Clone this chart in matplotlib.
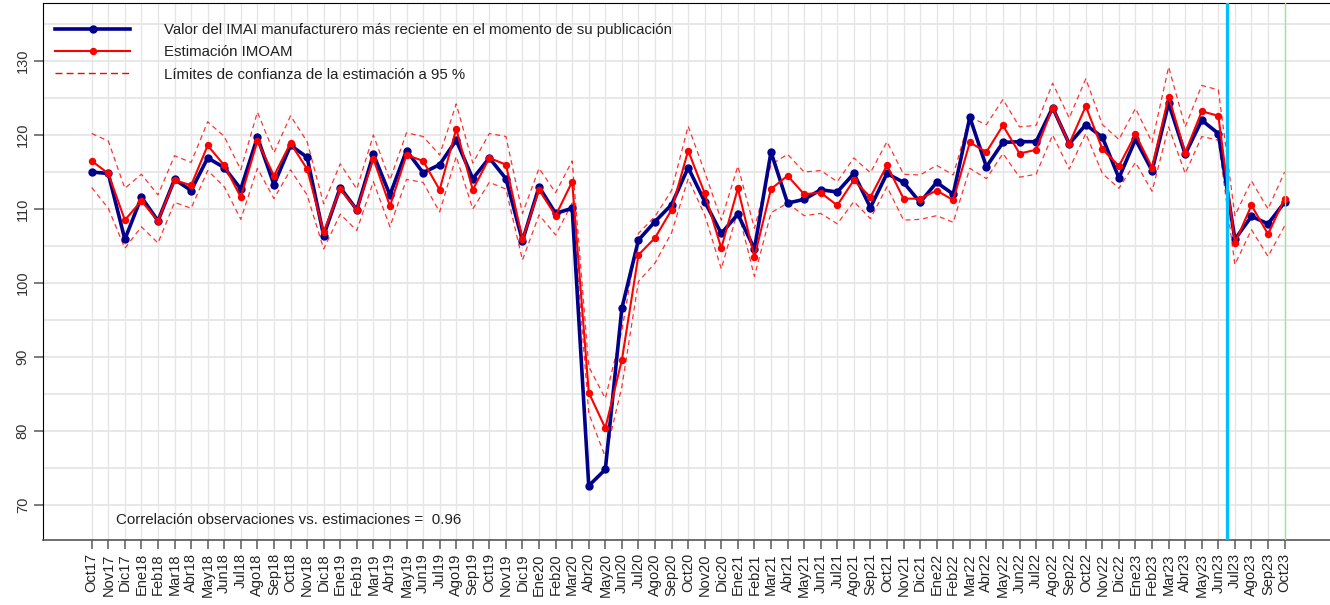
import numpy as np
import matplotlib
matplotlib.use('Agg')
import matplotlib.pyplot as plt
from matplotlib.lines import Line2D

plt.rcParams['font.family'] = ['Liberation Sans', 'DejaVu Sans']

# month labels, Oct17 .. Oct23
meses = ['Ene', 'Feb', 'Mar', 'Abr', 'May', 'Jun', 'Jul', 'Ago', 'Sep', 'Oct', 'Nov', 'Dic']
labels = []
for yr in range(17, 24):
    for k, m in enumerate(meses):
        if (yr == 17 and k < 9) or (yr == 23 and k > 9):
            continue
        labels.append(f'{m}{yr}')

# IMAI manufacturero observed
observado = [115.0, 114.8, 105.9, 111.6, 108.4, 114.0, 112.5, 116.9, 115.6, 112.7,
             119.7, 113.3, 118.6, 117.0, 106.4, 112.9, 109.9, 117.4, 111.9, 117.9,
             114.9, 116.0, 119.3, 114.1, 116.9, 114.1, 105.7, 113.0, 109.4, 110.1,
             72.6, 74.8, 96.6, 105.8, 108.3, 110.6, 115.6, 111.0, 106.7, 109.3,
             104.6, 117.7, 110.8, 111.3, 112.6, 112.3, 114.8, 110.2, 114.8, 113.6,
             110.9, 113.6, 112.0, 122.4, 115.7, 119.0, 119.1, 119.1, 123.7, 118.8,
             121.4, 119.7, 114.2, 119.4, 115.2, 124.3, 117.4, 122.0, 120.2, 105.9,
             109.0, 108.0, 110.9]

# IMOAM estimate
estimacion = [116.5, 114.8, 108.5, 111.1, 108.4, 113.9, 113.2, 118.6, 115.9, 111.6,
              119.2, 114.5, 118.9, 115.4, 106.9, 112.7, 109.9, 116.8, 110.4, 117.3,
              116.5, 112.6, 120.8, 112.6, 116.9, 116.0, 105.9, 112.6, 109.1, 113.7,
              85.2, 80.4, 89.6, 103.8, 106.1, 109.9, 117.9, 112.1, 104.7, 112.8,
              103.5, 112.7, 114.5, 112.0, 112.2, 110.5, 113.9, 111.6, 115.9, 111.4,
              111.4, 112.5, 111.2, 119.0, 117.7, 121.3, 117.5, 118.0, 123.7, 118.8,
              123.9, 118.1, 115.8, 120.1, 115.6, 125.2, 117.6, 123.2, 122.6, 105.4,
              110.5, 106.6, 111.4]

# 95% limits
lim_sup = [120.2, 119.2, 112.8, 114.7, 111.9, 117.2, 116.3, 121.8, 119.8, 115.3,
           123.1, 117.6, 122.6, 119.1, 110.7, 116.1, 112.7, 120.0, 113.9, 120.3,
           119.8, 117.3, 124.2, 116.2, 120.2, 119.8, 109.4, 115.5, 112.2, 116.5,
           88.7, 84.4, 93.6, 106.7, 109.0, 112.5, 121.2, 115.0, 108.5, 115.8,
           107.4, 116.0, 117.4, 115.0, 115.2, 113.7, 116.9, 114.9, 119.1, 114.7,
           114.6, 115.9, 114.6, 122.4, 121.4, 124.8, 121.1, 121.3, 127.0, 122.3,
           127.6, 121.4, 119.4, 123.6, 119.0, 129.2, 121.1, 126.7, 126.1, 109.1,
           113.8, 110.0, 115.0]

lim_inf = [112.9, 110.1, 104.7, 107.6, 105.4, 110.9, 110.1, 115.2, 113.0, 108.6,
           115.5, 111.4, 115.3, 111.9, 104.6, 109.3, 107.1, 113.7, 107.6, 114.0,
           113.6, 109.6, 117.1, 110.0, 113.6, 112.7, 103.1, 109.2, 106.5, 110.8,
           82.4, 76.5, 86.0, 100.2, 102.7, 106.8, 114.1, 109.2, 101.9, 109.8,
           100.9, 109.5, 110.8, 109.1, 109.4, 108.0, 111.0, 108.7, 113.0, 108.5,
           108.6, 109.1, 108.2, 115.5, 114.1, 117.5, 114.3, 114.7, 120.0, 115.4,
           120.2, 114.8, 112.8, 116.3, 112.4, 121.1, 114.8, 119.8, 119.3, 102.5,
           107.2, 103.6, 107.7]

correlacion = 0.96

x = np.arange(len(labels))

fig = plt.figure(figsize=(13.3, 6.05), dpi=100)
ax = fig.add_axes([43 / 1330, 65 / 605, 1 - 43 / 1330, 537 / 605])

# grid
for xi in x:
    ax.axvline(xi, color='#e6e6e6', lw=1, zorder=0)
for yv in np.arange(70, 140, 5):
    ax.axhline(yv, color='#e6e6e6', lw=1.3, zorder=0)

ax.plot(x, lim_sup, color='red', lw=0.9, dashes=(4, 3), alpha=0.8, zorder=2)
ax.plot(x, lim_inf, color='red', lw=0.9, dashes=(4, 3), alpha=0.8, zorder=2)
ax.plot(x, observado, color='#00008b', lw=2.6, marker='o', ms=5, zorder=3)
ax.plot(x, estimacion, color='red', lw=1.5, marker='o', ms=4.3, zorder=4)

ax.axvline(68.5, color='#00bfff', lw=2.4, zorder=5)
ax.axvline(72, color='#90ee90', lw=1, zorder=5)

ax.set_xlim(-2.94, 74.74)
ax.set_ylim(65.27, 137.84)
ax.set_xticks(x)
ax.set_xticklabels(labels, rotation=90, fontsize=10.5, color='#222222')
ax.set_yticks(np.arange(70, 131, 10))
ax.set_yticklabels([str(v) for v in range(70, 131, 10)], rotation=90, va='center',
                   fontsize=10.5, color='#333333')
ax.tick_params(length=6.5, width=1.2, color='#666666', pad=3)
ax.spines['right'].set_visible(False)
ax.spines['left'].set_color('black')
ax.spines['top'].set_color('black')
ax.spines['bottom'].set_color('#555555')
ax.spines['bottom'].set_linewidth(1.2)

handles = [
    Line2D([], [], color='#00008b', lw=2.6, marker='o', ms=5),
    Line2D([], [], color='red', lw=1.5, marker='o', ms=4.3),
    Line2D([], [], color='#ff0000', lw=1.0, dashes=(5, 3)),
]
names = ['Valor del IMAI manufacturero más reciente en el momento de su publicación',
         'Estimación IMOAM',
         'Límites de confianza de la estimación a 95 %']
leg = ax.legend(handles, names, loc='upper left', bbox_to_anchor=(0.0, 0.985), frameon=False,
                fontsize=10.8, handlelength=5.0, handletextpad=2.3, labelspacing=0.55,
                borderaxespad=0.4)
for t in leg.get_texts():
    t.set_color('#222222')

fig.text(116 / 1330, (605 - 520) / 605, f'Correlación observaciones vs. estimaciones =  {correlacion}',
         fontsize=10.9, va='center', ha='left', color='#222222')

fig.savefig('out.png', dpi=100)
